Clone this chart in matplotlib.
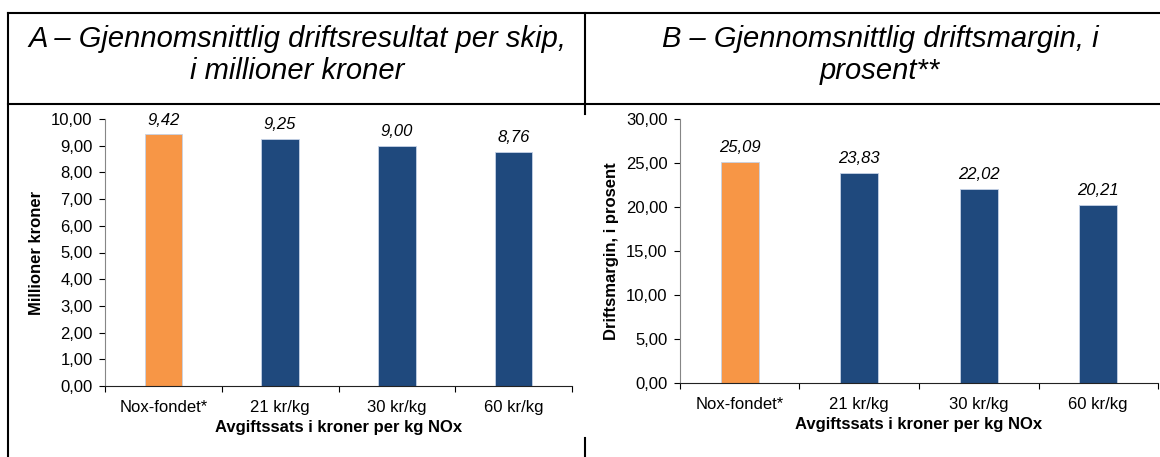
import matplotlib
matplotlib.use("Agg")
import matplotlib.pyplot as plt
from matplotlib.lines import Line2D
import matplotlib.ticker as tck

plt.rcParams['font.family'] = ['Liberation Sans', 'DejaVu Sans']

# data
categories = ['Nox-fondet*', '21 kr/kg', '30 kr/kg', '60 kr/kg']
resultat = [9.42, 9.25, 9.00, 8.76]
margin = [25.09, 23.83, 22.02, 20.21]
bar_colors = ['#F79646', '#1F497D', '#1F497D', '#1F497D']

title_a = 'A – Gjennomsnittlig driftsresultat per skip,\ni millioner kroner'
title_b = 'B – Gjennomsnittlig driftsmargin, i\nprosent**'
xlabel = 'Avgiftssats i kroner per kg NOx'

W, H = 1160, 457
fig = plt.figure(figsize=(W / 100, H / 100), dpi=100)


def px_rect(x0, y_top, x1, y_bot):
    # pixel box (from top-left) -> figure fraction rect
    return [x0 / W, 1 - y_bot / H, (x1 - x0) / W, (y_bot - y_top) / H]


def fig_line(xs, ys, lw=1.5):
    fig.add_artist(Line2D([x / W for x in xs], [1 - y / H for y in ys],
                          color='black', linewidth=lw, transform=fig.transFigure))


# table frame around the two panels
fig_line([8, 1160], [13, 13])
fig_line([8, 1160], [104, 104])
fig_line([8, 8], [13, 457])
fig_line([585, 585], [13, 114])
fig_line([585, 585], [438, 457])

fig.text(297 / W, 1 - 55 / H, title_a, ha='center', va='center', fontsize=21,
         style='italic', linespacing=1.2)
fig.text(880 / W, 1 - 55 / H, title_b, ha='center', va='center', fontsize=21,
         style='italic', linespacing=1.2)


def bar_panel(rect, values, ymax, ystep, ylabel):
    ax = fig.add_axes(rect)
    x = range(len(values))
    ax.bar(x, values, width=0.32, color=bar_colors, edgecolor='#c5d2e6', linewidth=0.6)
    for xi, v in zip(x, values):
        ax.annotate(f'{v:.2f}'.replace('.', ','), (xi, v), xytext=(0, 5),
                    textcoords='offset points', ha='center', va='bottom',
                    fontsize=12, style='italic')
    ax.set_xlim(-0.5, len(values) - 0.5)
    ax.set_ylim(0, ymax)
    ax.yaxis.set_major_locator(tck.MultipleLocator(ystep))
    ax.yaxis.set_major_formatter(tck.FuncFormatter(lambda v, p: f'{v:.2f}'.replace('.', ',')))
    # tick marks between categories, labels at category centres
    ax.xaxis.set_major_locator(tck.FixedLocator([i - 0.5 for i in range(len(values) + 1)]))
    ax.xaxis.set_major_formatter(tck.NullFormatter())
    ax.xaxis.set_minor_locator(tck.FixedLocator(list(x)))
    ax.xaxis.set_minor_formatter(tck.FixedFormatter(categories))
    ax.tick_params(axis='x', which='minor', length=0, labelsize=12, pad=10)
    ax.tick_params(axis='x', which='major', length=4, width=0.8)
    ax.tick_params(axis='y', length=4, width=0.8, labelsize=12, pad=5)
    for s in ['top', 'right']:
        ax.spines[s].set_visible(False)
    ax.spines['left'].set_color('#868686')
    ax.spines['bottom'].set_color('#222222')
    ax.set_xlabel(xlabel, fontsize=12, fontweight='bold', labelpad=4)
    ax.set_ylabel(ylabel, fontsize=12, fontweight='bold', labelpad=5)
    return ax


bar_panel(px_rect(105, 119, 572, 386), resultat, 10, 1, 'Millioner kroner')
bar_panel(px_rect(680, 119, 1158, 383), margin, 30, 5, 'Driftsmargin, i prosent')

fig.savefig('out.png', dpi=100)
